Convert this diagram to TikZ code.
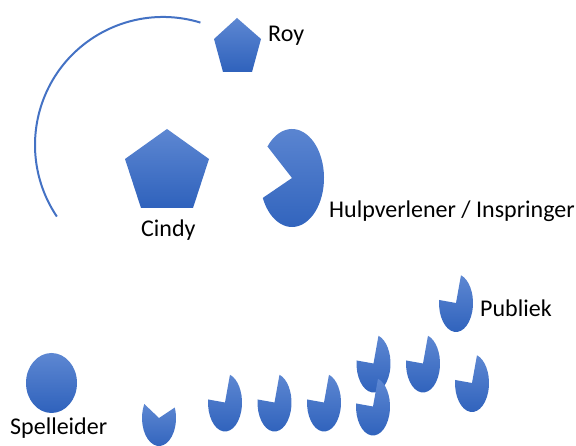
\documentclass[tikz,border=0pt]{standalone}
\usepackage{fontspec}
\setmainfont{Carlito}
\definecolor{arcblue}{HTML}{4472C4}
\definecolor{shtop}{HTML}{5D87D2}
\definecolor{shbot}{HTML}{2F62BC}
\tikzset{
  shapefill/.style={top color=shtop, bottom color=shbot, draw=none},
  lbl/.style={inner sep=0pt, anchor=base west, font=\fontsize{24}{29}\selectfont, text=black},
  pacman/.pic={\path[shapefill] (0,0) -- (174:17pt and 29pt) arc[start angle=174, end angle=433, x radius=17pt, y radius=29pt] -- cycle;},
  vpac/.pic={\path[shapefill] (0,0) -- (150:17pt and 28pt) arc[start angle=150, end angle=382, x radius=17pt, y radius=28pt] -- cycle;},
  bigpac/.pic={\path[shapefill] (0,0) -- (204:32pt and 49pt) arc[start angle=204, end angle=500, x radius=32pt, y radius=49pt] -- cycle;}
}
\begin{document}
\begin{tikzpicture}[x=1pt,y=1pt]
\useasboundingbox (0,0) rectangle (576,-446);
% large arc
\coordinate (arcc) at (163,-145);
\draw[arcblue, line width=2pt] (arcc) ++(73:128pt) arc[start angle=73, end angle=214, radius=128pt];
% Roy pentagon
\path[shapefill] (237,-18) -- (261,-39) -- (252,-72) -- (223,-72) -- (214,-39) -- cycle;
\node[lbl] (roy) at (268,-42) {Roy};
% Cindy pentagon
\path[shapefill] (167,-129) -- (209,-159) -- (193,-208) -- (141,-208) -- (125,-159) -- cycle;
\node[lbl] (cindy) at (141,-237) {Cindy};
% Hulpverlener
\pic at (292,-178) {bigpac};
\node[lbl] (hulp) at (329,-218) {Hulpverlener / Inspringer};
% Spelleider
\path[shapefill] (51.5,-383) ellipse[x radius=25.5pt, y radius=30pt];
\node[lbl] (spel) at (10,-435) {Spelleider};
% audience
\pic at (159,-418) {vpac};
\pic at (225,-402.5) {pacman};
\pic at (274.5,-402.5) {pacman};
\pic at (324,-402.5) {pacman};
\pic at (373.5,-363.5) {pacman};
\pic at (373,-406.5) {pacman};
\pic at (423,-363.5) {pacman};
\pic at (472,-383) {pacman};
\pic at (456,-303) {pacman};
\node[lbl] (publiek) at (480,-317) {Publiek};
\end{tikzpicture}
\end{document}
